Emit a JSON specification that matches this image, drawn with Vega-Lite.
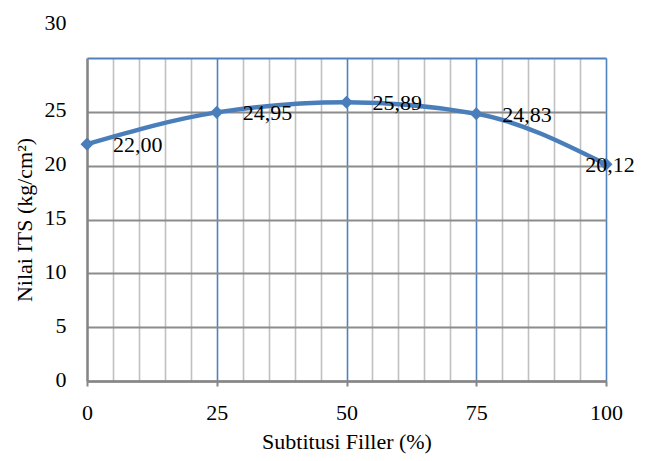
{
  "$schema": "https://vega.github.io/schema/vega-lite/v6.json",
  "width": 519,
  "height": 323,
  "autosize": {"type": "none"},
  "padding": {"left": 87, "top": 58, "right": 47, "bottom": 80},
  "background": "white",
  "config": {
    "font": "Times New Roman, Liberation Serif, serif",
    "axis": {"labelFont": "Times New Roman, Liberation Serif, serif", "titleFont": "Times New Roman, Liberation Serif, serif"},
    "text": {"font": "Times New Roman, Liberation Serif, serif"},
    "view": {"stroke": null}
  },
  "data": {"values": [
    {"filler": 0, "its": 22.00, "label": "22,00"},
    {"filler": 25, "its": 24.95, "label": "24,95"},
    {"filler": 50, "its": 25.89, "label": "25,89"},
    {"filler": 75, "its": 24.83, "label": "24,83"},
    {"filler": 100, "its": 20.12, "label": "20,12"}
  ]},
  "encoding": {
    "x": {
      "field": "filler",
      "type": "quantitative",
      "scale": {"domain": [0, 100], "nice": false},
      "axis": {
        "values": [0, 5, 10, 15, 20, 25, 30, 35, 40, 45, 50, 55, 60, 65, 70, 75, 80, 85, 90, 95, 100],
        "labelExpr": "datum.value % 25 == 0 ? datum.label : ''",
        "grid": true,
        "gridColor": {"condition": {"test": "datum.value % 25 == 0 && datum.value > 0", "value": "#4f81bd"}, "value": "#c0c0c0"},
        "gridWidth": 1.6,
        "domainColor": "#868686",
        "domainWidth": 2.5,
        "tickColor": {"condition": {"test": "datum.value % 25 == 0", "value": "#868686"}, "value": "transparent"},
        "tickSize": 5,
        "tickWidth": 2,
        "labelFontSize": 22,
        "labelColor": "#000000",
        "labelPadding": 16,
        "labelFlush": false,
        "labelOverlap": false,
        "title": "Subtitusi Filler (%)",
        "titleFontSize": 22,
        "titleFontWeight": "normal",
        "titleColor": "#000000",
        "titlePadding": 8
      }
    },
    "y": {
      "field": "its",
      "type": "quantitative",
      "scale": {"domain": [0, 30], "nice": false},
      "axis": {
        "values": [0, 5, 10, 15, 20, 25, 30],
        "grid": true,
        "gridColor": {"condition": {"test": "datum.value == 30", "value": "#4f81bd"}, "value": "#8c8c8c"},
        "gridWidth": 1.8,
        "domainColor": "#868686",
        "domainWidth": 2.5,
        "ticks": false,
        "tickSize": 0,
        "labelFontSize": 22,
        "labelColor": "#000000",
        "labelPadding": 21,
        "labelFlush": false,
        "labelOverlap": false,
        "labelOffset": {"condition": {"test": "datum.value == 30", "value": -36}, "value": -2},
        "title": "Nilai ITS (kg/cm²)",
        "titleFontSize": 22,
        "titleFontWeight": "normal",
        "titleColor": "#000000",
        "titlePadding": 8
      }
    }
  },
  "layer": [
    {"mark": {"type": "line", "interpolate": "monotone", "color": "#4a7ebb", "strokeWidth": 4.5}},
    {"mark": {"type": "point", "shape": "diamond", "filled": true, "size": 170, "color": "#4a7ebb", "opacity": 1}},
    {
      "transform": [{"filter": "datum.filler < 100"}],
      "mark": {"type": "text", "align": "left", "baseline": "middle", "dx": 26, "dy": 1, "fontSize": 22, "color": "#000000", "font": "Times New Roman, Liberation Serif, serif"},
      "encoding": {"text": {"field": "label"}}
    },
    {
      "transform": [{"filter": "datum.filler == 100"}],
      "mark": {"type": "text", "align": "center", "baseline": "middle", "dx": 4, "dy": 1, "fontSize": 22, "color": "#000000", "font": "Times New Roman, Liberation Serif, serif"},
      "encoding": {"text": {"field": "label"}}
    }
  ]
}
